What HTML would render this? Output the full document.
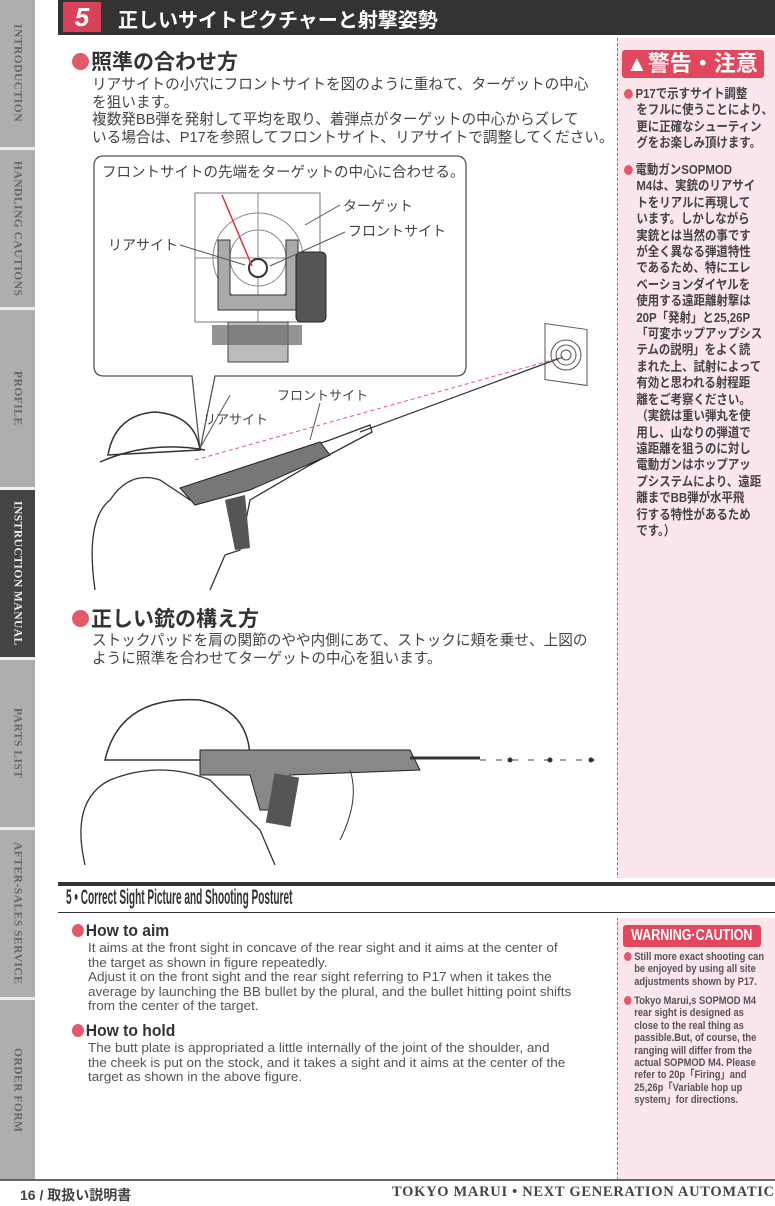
<!DOCTYPE html>
<html><head><meta charset="utf-8"><style>
*{margin:0;padding:0;box-sizing:border-box}
body{width:775px;height:1206px;background:#fff;position:relative;overflow:hidden;font-family:"Liberation Sans","Noto Sans CJK JP",sans-serif;color:#333}
.a{position:absolute}
.side{left:0;top:0;width:35px;height:1180px;background:#aeaeae}
.tab{position:absolute;left:0;width:35px;border-bottom:3px solid #eee;display:flex;align-items:center;justify-content:center}
.tab span{writing-mode:vertical-rl;font-family:"Liberation Serif",serif;font-size:11.5px;font-weight:bold;color:#666;letter-spacing:.5px;white-space:nowrap}
.jp{font-family:"Liberation Sans","Noto Sans CJK JP",sans-serif}
.dot{display:inline-block;width:14px;height:14px;border-radius:50%;background:#e05a6a;vertical-align:-1px;margin-right:2px}
.rc{font-size:13px;line-height:16.45px;font-weight:bold;color:#444;white-space:nowrap;transform:scaleX(.88);transform-origin:left top}
.en{font-size:13px;line-height:14.6px;color:#555;white-space:nowrap;transform:scaleX(1.04);transform-origin:left top}
.ec{font-size:11px;line-height:12.4px;font-weight:bold;color:#555;white-space:nowrap;transform:scaleX(.85);transform-origin:left top}
.jb{font-size:15px;line-height:17.7px;color:#444;white-space:nowrap;transform:scaleX(.975);transform-origin:left top}
</style></head><body>
<div class="a side">
 <div class="tab" style="top:0;height:150px"><span>INTRODUCTION</span></div>
 <div class="tab" style="top:150px;height:160px"><span>HANDLING CAUTIONS</span></div>
 <div class="tab" style="top:310px;height:180px"><span>PROFILE</span></div>
 <div class="tab" style="top:490px;height:170px;background:#444"><span style="color:#eee">INSTRUCTION MANUAL</span></div>
 <div class="tab" style="top:660px;height:170px"><span>PARTS LIST</span></div>
 <div class="tab" style="top:830px;height:170px"><span>AFTER-SALES SERVICE</span></div>
 <div class="tab" style="top:1000px;height:180px;border:none"><span>ORDER FORM</span></div>
</div>
<!-- header -->
<div class="a" style="left:58px;top:0;width:717px;height:35px;background:#333"></div>
<div class="a" style="left:63px;top:2px;width:38px;height:30px;background:#d9405a;color:#fff;font:italic bold 26px 'Liberation Sans';text-align:center;line-height:30px">5</div>
<div class="a jp" style="left:118px;top:4px;color:#fff;font-size:20px;font-weight:bold">正しいサイトピクチャーと射撃姿勢</div>
<!-- pink column -->
<div class="a" style="left:617px;top:38px;width:158px;height:1142px;background:#fbe6ec;border-left:1px dashed #e46"></div>
<div class="a" style="left:617px;top:878px;width:158px;height:40px;background:#fff"></div>
<div class="a jp" style="left:622px;top:50px;width:142px;height:28px;background:#e2475e;color:#fff;font-size:22px;font-weight:bold;border-radius:3px;line-height:28px;padding-left:4px;white-space:nowrap">▲警告・注意</div>
<div class="a rc jp" style="left:624px;top:86px">
<span class="dot" style="width:10px;height:10px;margin-right:3px"></span>P17で示すサイト調整<br>
<span style="padding-left:14px">をフルに使うことにより、</span><br>
<span style="padding-left:14px">更に正確なシューティン</span><br>
<span style="padding-left:14px">グをお楽しみ頂けます。</span>
</div>
<div class="a rc jp" style="left:624px;top:162px;line-height:16.4px">
<span class="dot" style="width:10px;height:10px;margin-right:3px"></span>電動ガンSOPMOD<br>
<div style="padding-left:14px">M4は、実銃のリアサイ<br>トをリアルに再現して<br>います。しかしながら<br>実銃とは当然の事です<br>が全く異なる弾道特性<br>であるため、特にエレ<br>ベーションダイヤルを<br>使用する遠距離射撃は<br>20P「発射」と25,26P<br>「可変ホップアップシス<br>テムの説明」をよく読<br>まれた上、試射によって<br>有効と思われる射程距<br>離をご考察ください。<br>（実銃は重い弾丸を使<br>用し、山なりの弾道で<br>遠距離を狙うのに対し<br>電動ガンはホップアッ<br>プシステムにより、遠距<br>離までBB弾が水平飛<br>行する特性があるため<br>です。）</div>
</div>
<!-- JP section 1 -->
<div class="a jp" style="left:72px;top:46px;font-size:21px;font-weight:bold;color:#333"><span class="dot" style="width:17px;height:17px"></span>照準の合わせ方</div>
<div class="a jp jb" style="left:92px;top:76px">リアサイトの小穴にフロントサイトを図のように重ねて、ターゲットの中心<br>を狙います。<br>複数発BB弾を発射して平均を取り、着弾点がターゲットの中心からズレて<br>いる場合は、P17を参照してフロントサイト、リアサイトで調整してください。</div>
<!-- figure 1 -->
<svg class="a" style="left:0;top:0" width="620" height="600">
<path d="M110,156 H456 Q466,156 466,166 V366 Q466,376 456,376 H215 L200,450 L192,376 H104 Q94,376 94,366 V166 Q94,156 104,156 Z" fill="#fff" stroke="#555" stroke-width="1.3"/>
<rect x="195" y="193" width="125" height="129" fill="#fff" stroke="#777"/>
<circle cx="258" cy="258" r="45" fill="none" stroke="#888"/><circle cx="258" cy="258" r="28" fill="none" stroke="#888"/>
<line x1="258" y1="193" x2="258" y2="322" stroke="#888"/><line x1="195" y1="258" x2="320" y2="258" stroke="#888"/>
<path d="M218,240 h12 v55 h56 v-55 h12 v70 h-80z" fill="#aaa" stroke="#333"/>
<rect x="296" y="252" width="30" height="70" rx="5" fill="#555" stroke="#222"/>
<rect x="228" y="322" width="60" height="40" fill="#bbb" stroke="#444"/>
<rect x="212" y="325" width="90" height="20" fill="#666" opacity=".7"/>
<circle cx="258" cy="268" r="9" fill="#fff" stroke="#333" stroke-width="2"/>
<line x1="222" y1="195" x2="252" y2="266" stroke="#d33" stroke-width="1.5"/>
<line x1="180" y1="245" x2="245" y2="265" stroke="#555"/><line x1="340" y1="205" x2="305" y2="225" stroke="#555"/><line x1="345" y1="232" x2="270" y2="266" stroke="#555"/>
<rect x="545" y="325" width="42" height="56" fill="#fff" stroke="#555" transform="skewY(8) translate(0,-78)"/>
<circle cx="566" cy="355" r="15" fill="none" stroke="#555"/><circle cx="566" cy="355" r="10" fill="none" stroke="#555"/><circle cx="566" cy="355" r="5" fill="none" stroke="#555"/>
<line x1="360" y1="432" x2="563" y2="357" stroke="#333" stroke-width="1.2"/>
<line x1="195" y1="460" x2="563" y2="357" stroke="#e57" stroke-dasharray="4,3"/>
<path d="M108,455 Q115,415 155,412 Q195,415 200,450 Z" fill="#fff" stroke="#333" stroke-width="1.5"/>
<path d="M100,462 Q150,440 205,450" fill="none" stroke="#333" stroke-width="1.5"/>
<path d="M95,590 Q85,520 110,500 Q130,470 160,480 L190,500 L240,470 L330,440 L370,425 L372,432 L310,465 L250,500 L240,550 L225,555 L210,590" fill="none" stroke="#333" stroke-width="1.3"/>
<path d="M180,488 L250,465 L320,442 L330,455 L250,490 L195,505 Z" fill="#777" stroke="#222"/>
<path d="M225,500 L235,550 L250,548 L245,495 Z" fill="#555"/>
<line x1="200" y1="448" x2="230" y2="395" stroke="#555"/><line x1="310" y1="440" x2="320" y2="403" stroke="#555"/>
</svg>
<div class="a jp" style="left:102px;top:161px;font-size:14.5px;color:#444">フロントサイトの先端をターゲットの中心に合わせる。</div>
<div class="a jp" style="left:343px;top:196px;font-size:14px;color:#444">ターゲット</div>
<div class="a jp" style="left:348px;top:221px;font-size:14px;color:#444">フロントサイト</div>
<div class="a jp" style="left:108px;top:235px;font-size:14px;color:#444">リアサイト</div>
<div class="a jp" style="left:277px;top:385px;font-size:13px;color:#444">フロントサイト</div>
<div class="a jp" style="left:203px;top:409px;font-size:13px;color:#444">リアサイト</div>
<!-- JP section 2 -->
<div class="a jp" style="left:72px;top:603px;font-size:21px;font-weight:bold;color:#333"><span class="dot" style="width:17px;height:17px"></span>正しい銃の構え方</div>
<div class="a jp jb" style="left:92px;top:632px">ストックパッドを肩の関節のやや内側にあて、ストックに頬を乗せ、上図の<br>ように照準を合わせてターゲットの中心を狙います。</div>
<svg class="a" style="left:60px;top:680px" width="540" height="190">
<path d="M45,80 Q60,15 140,20 Q190,30 190,80 Z" fill="#fff" stroke="#333" stroke-width="1.5"/>
<path d="M25,185 Q10,120 50,100 Q100,80 150,100 L200,150 L215,185" fill="none" stroke="#333" stroke-width="1.3"/>
<path d="M140,70 L350,70 L360,90 L230,95 L220,130 L200,130 L190,95 L140,95 Z" fill="#888" stroke="#222"/>
<rect x="210" y="95" width="25" height="50" fill="#555" transform="rotate(10 222 120)"/>
<line x1="350" y1="78" x2="420" y2="78" stroke="#333" stroke-width="3"/>
<line x1="420" y1="80" x2="535" y2="80" stroke="#444" stroke-dasharray="6,10"/>
<circle cx="450" cy="80" r="2.5" fill="#333"/><circle cx="490" cy="80" r="2.5" fill="#333"/><circle cx="531" cy="80" r="2.5" fill="#333"/>
<path d="M290,90 Q300,120 280,160" fill="none" stroke="#333"/>
</svg>
<!-- English header -->
<div class="a" style="left:58px;top:882px;width:717px;height:4px;background:#333"></div>
<div class="a" style="left:66px;top:886px;font-family:'Liberation Sans',sans-serif;font-weight:bold;font-size:21px;color:#333;transform:scaleX(.48);transform-origin:left;white-space:nowrap">5 • Correct Sight Picture and Shooting Posturet</div>
<div class="a" style="left:58px;top:912px;width:717px;height:1px;background:#333"></div>
<div class="a" style="left:72px;top:921px;font-size:17px;font-weight:bold;color:#333;white-space:nowrap;transform:scaleX(.92);transform-origin:left"><span class="dot" style="width:13px;height:13px"></span>How to aim</div>
<div class="a en" style="left:88px;top:941px">It aims at the front sight in concave of the rear sight and it aims at the center of<br>the target as shown in figure repeatedly.<br>Adjust it on the front sight and the rear sight referring to P17 when it takes the<br>average by launching the BB bullet by the plural, and the bullet hitting point shifts<br>from the center of the target.</div>
<div class="a" style="left:72px;top:1021px;font-size:17px;font-weight:bold;color:#333;white-space:nowrap;transform:scaleX(.92);transform-origin:left"><span class="dot" style="width:13px;height:13px"></span>How to hold</div>
<div class="a en" style="left:88px;top:1041px">The butt plate is appropriated a little internally of the joint of the shoulder, and<br>the cheek is put on the stock, and it takes a sight and it aims at the center of the<br>target as shown in the above figure.</div>
<div class="a" style="left:623px;top:925px;width:138px;height:22px;background:#e2475e;color:#fff;font-size:16px;font-weight:bold;border-radius:3px;text-align:center;line-height:22px;white-space:nowrap;overflow:hidden"><span style="display:inline-block;transform:scaleX(.78);transform-origin:center;margin:0 -30px">WARNING·CAUTION</span></div>
<div class="a ec" style="left:624px;top:951px">
<span class="dot" style="width:9px;height:9px;margin-right:3px"></span>Still more exact shooting can<br><span style="padding-left:12px">be enjoyed by using all site</span><br><span style="padding-left:12px">adjustments shown by P17.</span>
</div>
<div class="a ec" style="left:624px;top:995px">
<span class="dot" style="width:9px;height:9px;margin-right:3px"></span>Tokyo Marui,s SOPMOD M4<br><div style="padding-left:12px">rear sight is designed as<br>close to the real thing as<br>passible.But, of course, the<br>ranging will differ from the<br>actual SOPMOD M4. Please<br>refer to 20p「Firing」and<br>25,26p「Variable hop up<br>system」for directions.</div>
</div>
<!-- footer -->
<div class="a" style="left:0;top:1179px;width:775px;height:2px;background:#666"></div>
<div class="a jp" style="left:20px;top:1185px;font-size:14px;font-weight:bold;color:#444">16 / 取扱い説明書</div>
<div class="a" style="left:392px;top:1184px;font-family:'Liberation Serif',serif;font-size:14.5px;font-weight:bold;color:#444;white-space:nowrap;letter-spacing:.7px">TOKYO MARUI • NEXT GENERATION AUTOMATIC</div>
</body></html>
